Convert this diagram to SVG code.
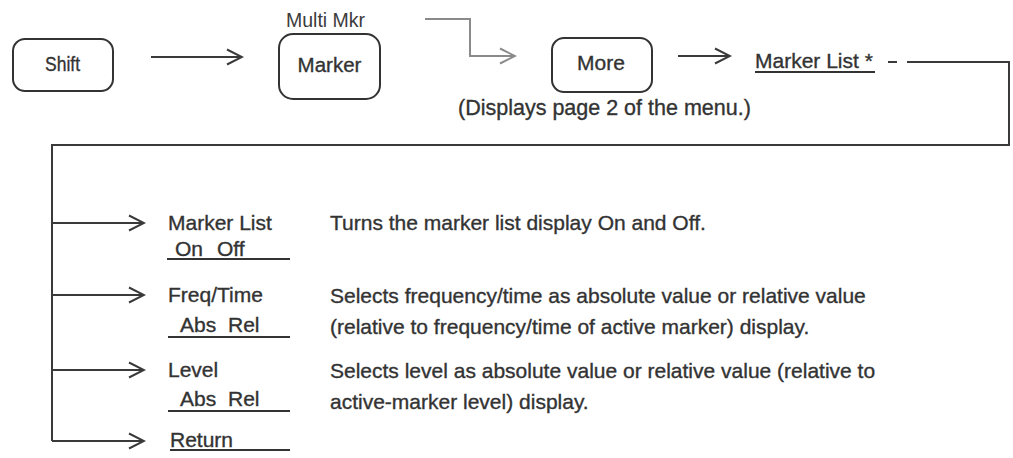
<svg xmlns="http://www.w3.org/2000/svg" width="1013" height="458" viewBox="0 0 1013 458">
<defs>
<style>
text{font-family:"Liberation Sans",Arial,sans-serif;font-size:21px;fill:#333;stroke:#333;stroke-width:0.35px}
.c{text-anchor:middle}
.thin{stroke-width:0;fill:#3c3c3c}
.box{fill:#fff;stroke:#333;stroke-width:2}
.ln{fill:none;stroke:#3a3a3a;stroke-width:2}
.gray{fill:none;stroke:#8a8a8a;stroke-width:2}
.ul{stroke:#333;stroke-width:2}
</style>
<marker id="ah" markerWidth="18" markerHeight="18" refX="16" refY="9" orient="auto" markerUnits="userSpaceOnUse"><path d="M1,1.5 L16,9 L1,16.5" fill="none" stroke="#3a3a3a" stroke-width="2"/></marker>
<marker id="ahg" markerWidth="18" markerHeight="18" refX="16" refY="9" orient="auto" markerUnits="userSpaceOnUse"><path d="M1,1.5 L16,9 L1,16.5" fill="none" stroke="#8a8a8a" stroke-width="2"/></marker>
</defs>
<rect width="1013" height="458" fill="#fff"/>
<g id="connectors">
<line class="ln" x1="151" y1="57" x2="242" y2="57" marker-end="url(#ah)"/>
<polyline class="gray" points="425,19 470,19 470,56 515,56" marker-end="url(#ahg)"/>
<line class="ln" x1="678" y1="56" x2="730" y2="56" marker-end="url(#ah)"/>
<path class="ln" d="M888,62 H897 M907,62 H912"/>
<polyline class="ln" points="912,62 1009,62 1009,145 52,145 52,441"/>
<line class="ln" x1="52" y1="223" x2="144" y2="223" marker-end="url(#ah)"/>
<line class="ln" x1="52" y1="295" x2="144" y2="295" marker-end="url(#ah)"/>
<line class="ln" x1="52" y1="370" x2="144" y2="370" marker-end="url(#ah)"/>
<line class="ln" x1="52" y1="441" x2="144" y2="441" marker-end="url(#ah)"/>
</g>
<g id="shift">
<rect class="box" x="13" y="39" width="100" height="52" rx="12"/>
<text x="45" y="71" style="font-size:20px" textLength="35" lengthAdjust="spacingAndGlyphs">Shift</text>
</g>
<g id="marker">
<text class="thin" x="286" y="27" style="font-size:19.5px">Multi Mkr</text>
<rect class="box" x="279" y="34" width="101" height="65" rx="14"/>
<text class="c" x="329.5" y="72" style="font-size:20.5px">Marker</text>
</g>
<g id="more">
<rect class="box" x="552" y="38" width="100" height="54" rx="12"/>
<text class="c" x="601" y="70">More</text>
<text x="458" y="115" style="font-size:21.5px">(Displays page 2 of the menu.)</text>
</g>
<g id="marker-list">
<text x="755" y="68">Marker List *</text>
<line class="ul" x1="755" y1="72" x2="875" y2="72"/>
</g>
<g id="item-marker-list">
<text x="168" y="230">Marker  List</text>
<text x="175" y="256">On</text>
<text x="217" y="256">Off</text>
<line class="ul" x1="167" y1="259" x2="290" y2="259"/>
<text x="330" y="230">Turns the marker list display On and Off.</text>
</g>
<g id="item-freq-time">
<text x="168" y="302">Freq/Time</text>
<text x="180" y="332">Abs</text>
<text x="228" y="332">Rel</text>
<line class="ul" x1="168" y1="337" x2="290" y2="337"/>
<text x="330" y="303">Selects frequency/time as absolute value or relative value</text>
<text x="330" y="334">(relative to frequency/time of active marker) display.</text>
</g>
<g id="item-level">
<text x="168" y="377">Level</text>
<text x="180" y="406">Abs</text>
<text x="228" y="406">Rel</text>
<line class="ul" x1="168" y1="411" x2="290" y2="411"/>
<text x="330" y="378">Selects level as absolute value or relative value (relative to</text>
<text x="330" y="409">active-marker level) display.</text>
</g>
<g id="item-return">
<text x="170" y="447">Return</text>
<line class="ul" x1="170" y1="450" x2="290" y2="450"/>
</g>
</svg>
